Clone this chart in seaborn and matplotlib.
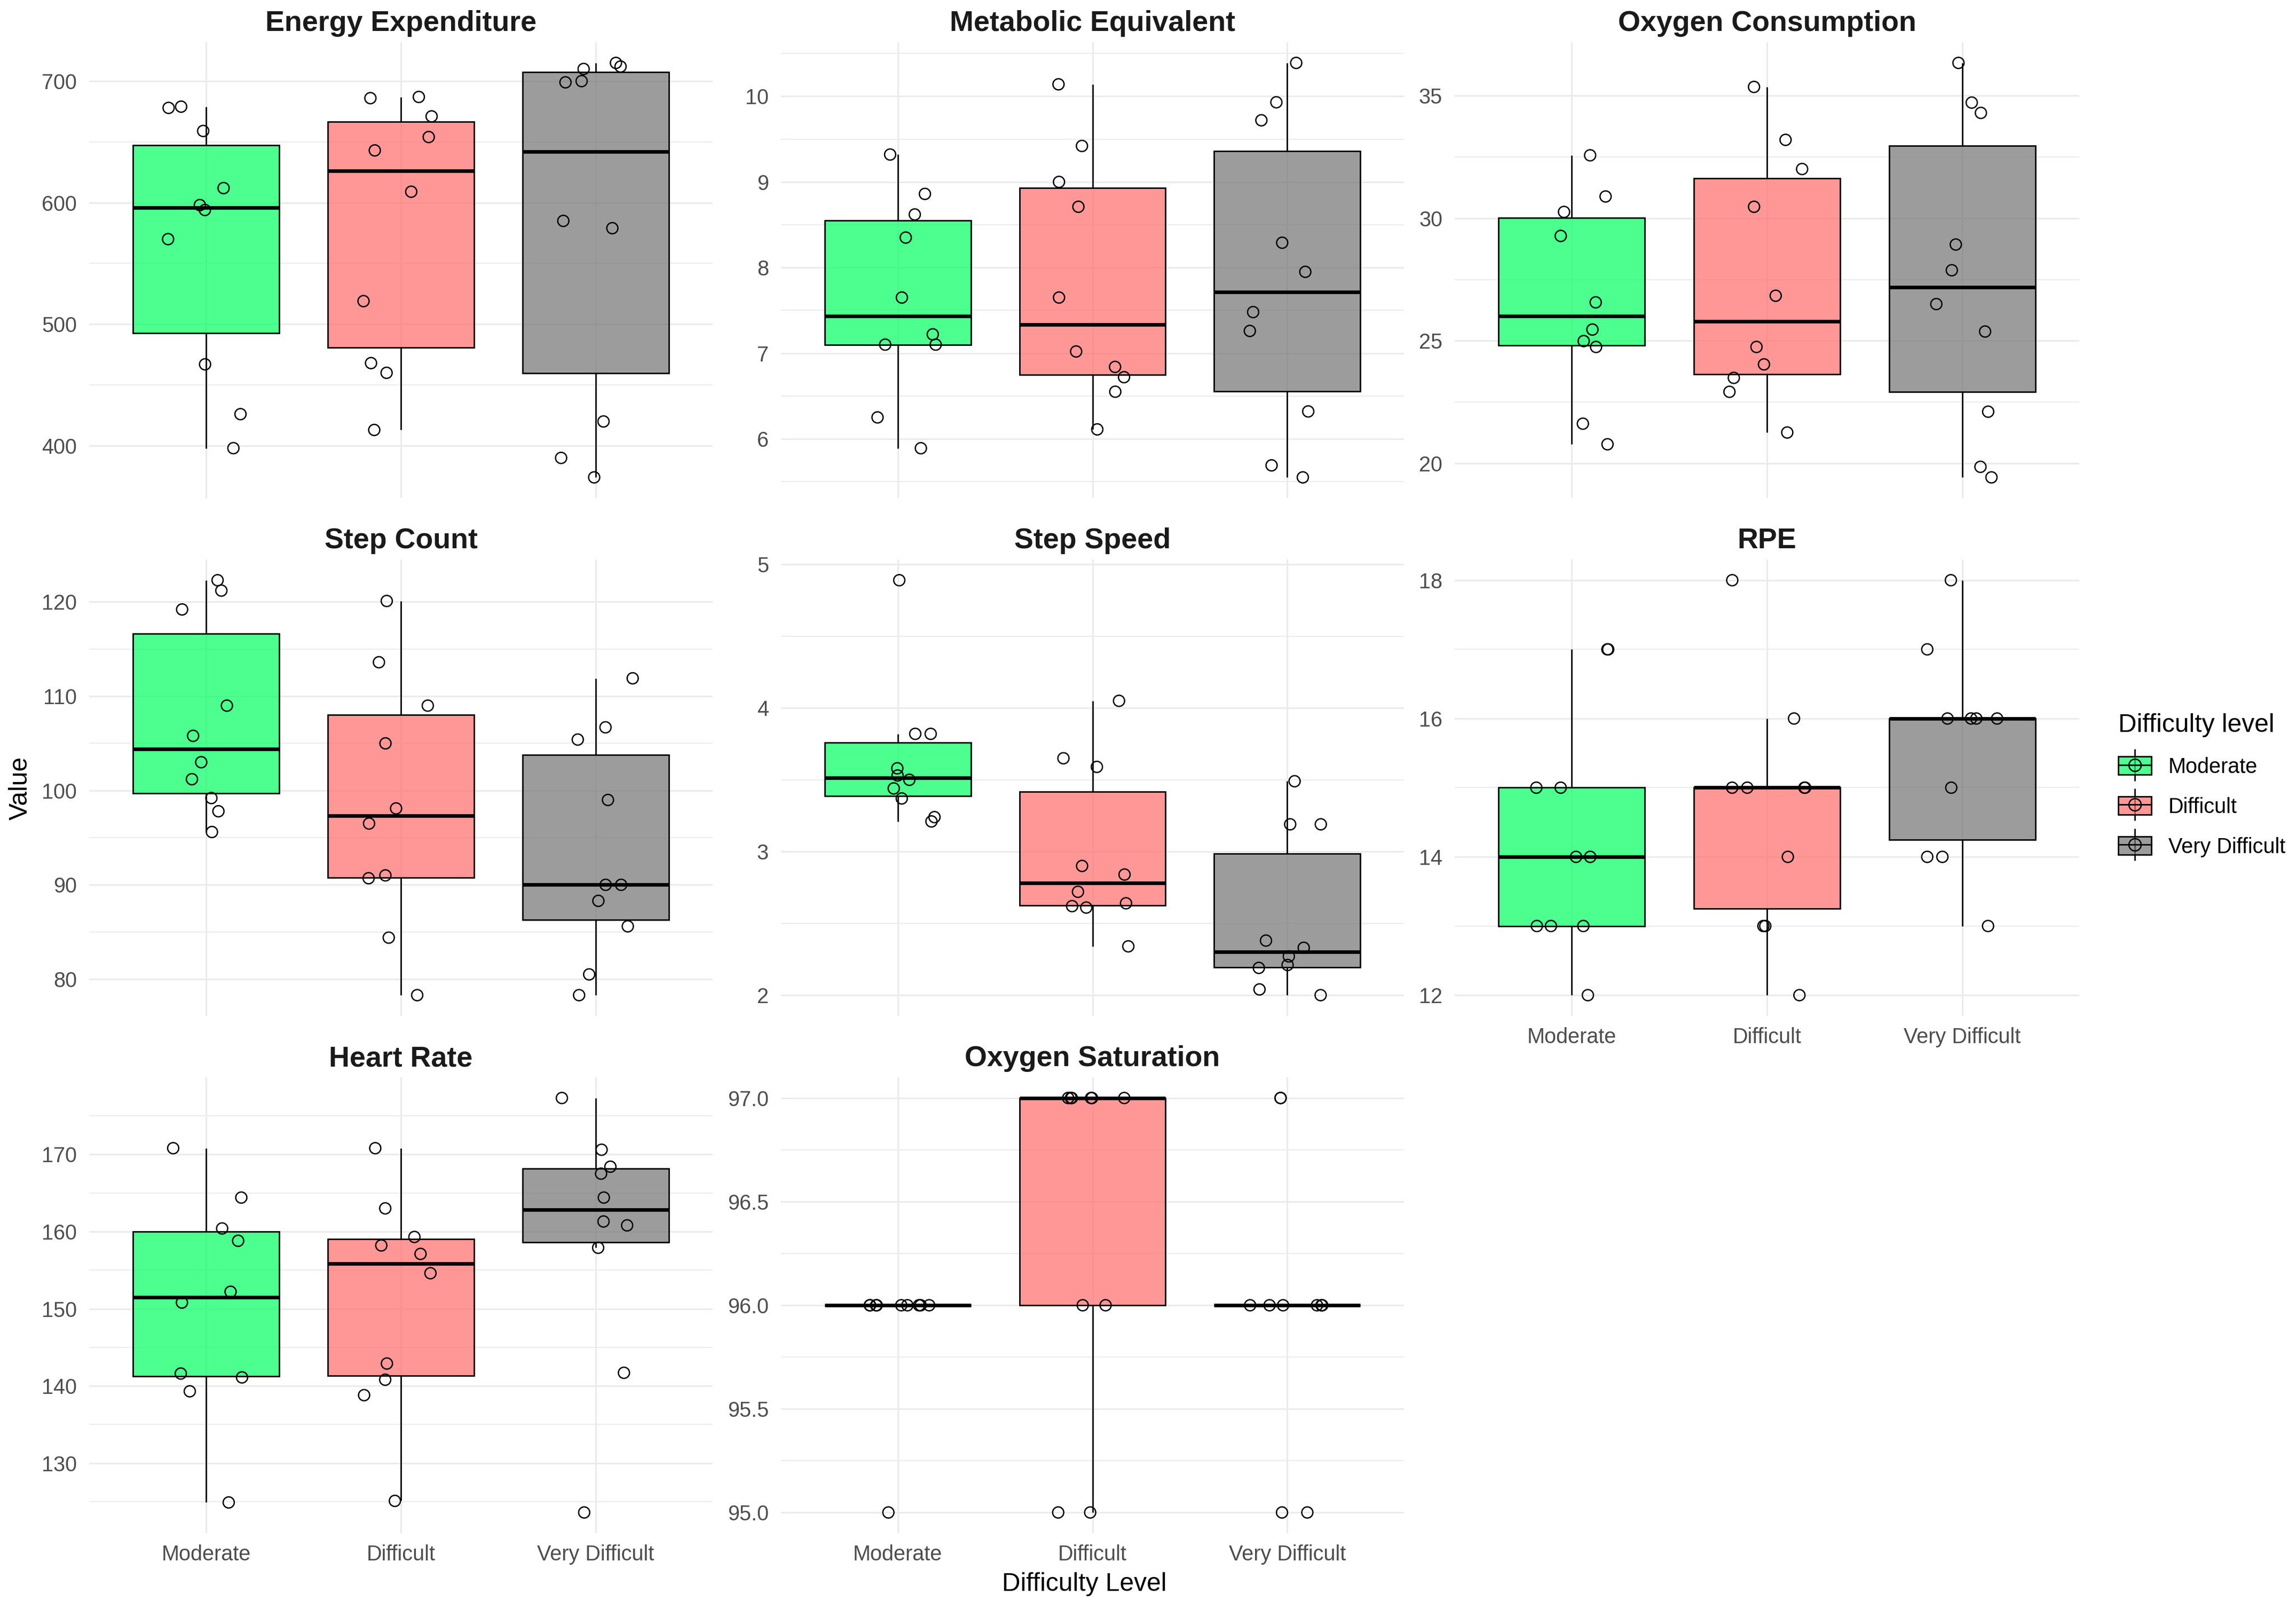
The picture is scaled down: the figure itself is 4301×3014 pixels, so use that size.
import numpy as np
import pandas as pd
import matplotlib
matplotlib.use('Agg')
import matplotlib.pyplot as plt
import seaborn as sns
from matplotlib.colors import to_rgba
from matplotlib.lines import Line2D
from matplotlib.patches import Patch
from matplotlib.ticker import MultipleLocator, FormatStrFormatter

levels = ['Moderate', 'Difficult', 'Very Difficult']
level_colors = ['#00FF5F', '#FF6B6B', '#737373']

# values, one list per difficulty level
energy = [[679, 678, 659, 612, 598, 594, 570, 467, 426, 398],
          [687, 686, 671, 654, 643, 609, 519, 468, 460, 413],
          [715, 712, 710, 700, 699, 585, 579, 420, 390, 374]]
metabolic = [[9.32, 8.86, 8.62, 8.35, 7.65, 7.22, 7.10, 7.10, 6.25, 5.89],
             [10.14, 9.42, 9.00, 8.71, 7.65, 7.02, 6.84, 6.72, 6.55, 6.11],
             [10.39, 9.93, 9.72, 8.29, 7.95, 7.48, 7.26, 6.32, 5.69, 5.55]]
oxygen_consumption = [[32.57, 30.89, 30.26, 29.28, 26.57, 25.46, 24.99, 24.75, 21.62, 20.78],
                      [35.36, 33.20, 32.01, 30.47, 26.84, 24.75, 24.04, 23.49, 22.92, 21.26],
                      [36.34, 34.72, 34.30, 28.93, 27.88, 26.50, 25.38, 22.11, 19.86, 19.43]]
step_count = [[122.3, 121.2, 119.2, 109.0, 105.8, 103.0, 101.2, 99.2, 97.8, 95.6],
              [120.1, 113.6, 109.0, 105.0, 98.1, 96.5, 91.0, 90.7, 84.4, 78.3],
              [111.9, 106.7, 105.4, 99.0, 90.0, 90.0, 88.3, 85.6, 80.5, 78.3]]
step_speed = [[4.89, 3.82, 3.82, 3.58, 3.53, 3.50, 3.44, 3.37, 3.24, 3.21],
              [4.05, 3.65, 3.59, 2.90, 2.84, 2.72, 2.64, 2.62, 2.61, 2.34],
              [3.49, 3.19, 3.19, 2.38, 2.33, 2.27, 2.21, 2.19, 2.04, 2.00]]
rpe = [[17, 17, 15, 15, 14, 14, 13, 13, 13, 12],
       [18, 16, 15, 15, 15, 15, 14, 13, 13, 12],
       [18, 17, 16, 16, 16, 16, 15, 14, 14, 13]]
heart_rate = [[170.8, 164.4, 160.4, 158.8, 152.2, 150.8, 141.6, 141.1, 139.3, 124.9],
              [170.8, 163.0, 159.3, 158.2, 157.1, 154.6, 142.9, 140.8, 138.8, 125.1],
              [177.3, 170.6, 168.4, 167.5, 164.4, 161.3, 160.8, 157.9, 141.7, 123.6]]
oxygen_saturation = [[96, 96, 96, 96, 96, 96, 96, 96, 96, 95],
                     [97, 97, 97, 97, 97, 97, 96, 96, 95, 95],
                     [97, 97, 96, 96, 96, 96, 96, 96, 95, 95]]

measures = ['Energy Expenditure', 'Metabolic Equivalent', 'Oxygen Consumption',
            'Step Count', 'Step Speed', 'RPE', 'Heart Rate', 'Oxygen Saturation']
measure_values = [energy, metabolic, oxygen_consumption, step_count,
                  step_speed, rpe, heart_rate, oxygen_saturation]
tick_steps = [100, 1, 5, 10, 1, 2, 10, 0.5]
bottom_panels = ['RPE', 'Heart Rate', 'Oxygen Saturation']

rows = []
for name, groups in zip(measures, measure_values):
    for level, vals in zip(levels, groups):
        for v in vals:
            rows.append({'Measure': name, 'Difficulty': level, 'Value': v})
df = pd.DataFrame(rows)

plt.rcParams['font.family'] = ['Liberation Sans', 'DejaVu Sans']

W, H = 4301, 3014
fig = plt.figure(figsize=(W / 300, H / 300), dpi=300)

col_x = [(167, 1335), (1463, 2630), (2725, 3895)]
row_y = [(79, 933), (1048, 1903), (2018, 2872)]

np.random.seed(11)
for i, (name, step) in enumerate(zip(measures, tick_steps)):
    r, c = divmod(i, 3)
    x0, x1 = col_x[c]
    y0, y1 = row_y[r]
    ax = fig.add_axes([x0 / W, 1 - y1 / H, (x1 - x0) / W, (y1 - y0) / H])
    sub = df[df['Measure'] == name]

    sns.boxplot(data=sub, x='Difficulty', y='Value', hue='Difficulty',
                order=levels, hue_order=levels, palette=level_colors,
                saturation=1, width=0.75, linecolor='black', linewidth=0.65,
                showfliers=False, showcaps=False,
                medianprops={'linewidth': 1.6}, legend=False, ax=ax)
    for p in ax.patches:
        p.set_facecolor(to_rgba(p.get_facecolor(), 0.7))

    sns.stripplot(data=sub, x='Difficulty', y='Value', order=levels,
                  jitter=0.2, size=5, color='black', ax=ax)
    for coll in ax.collections:
        coll.set_facecolor('none')
        coll.set_edgecolor('black')
        coll.set_linewidth(0.6)

    ax.set_xlim(-0.6, 2.6)
    ax.yaxis.set_major_locator(MultipleLocator(step))
    ax.yaxis.set_minor_locator(MultipleLocator(step / 2))
    if name == 'Oxygen Saturation':
        ax.yaxis.set_major_formatter(FormatStrFormatter('%.1f'))
    ax.grid(which='major', color='#EBEBEB', linewidth=0.7)
    ax.grid(which='minor', axis='y', color='#EBEBEB', linewidth=0.45)
    ax.set_axisbelow(True)
    for s in ax.spines.values():
        s.set_visible(False)
    ax.tick_params(which='both', length=0)
    ax.tick_params(axis='y', labelsize=9.5, labelcolor='#4D4D4D', pad=5.5)
    ax.tick_params(axis='x', labelsize=9.5, labelcolor='#4D4D4D', pad=5)
    if name not in bottom_panels:
        ax.tick_params(axis='x', labelbottom=False)
    ax.set_xlabel('')
    ax.set_ylabel('')
    ax.set_title(name, fontsize=12.9, fontweight='bold', color='#1A1A1A', pad=5)

handles = []
for col in level_colors:
    whisk = Line2D([], [], color='black', marker='|', linestyle='none',
                   markersize=14.4, markeredgewidth=0.65)
    box = Patch(facecolor=to_rgba(col, 0.7), edgecolor='black', linewidth=0.65)
    mid = Line2D([], [], color='black', linewidth=0.65, marker='o', markersize=5.5,
                 markerfacecolor='none', markeredgecolor='black', markeredgewidth=0.6)
    handles.append((whisk, box, mid))

fig.legend(handles, levels, loc='upper left', bbox_to_anchor=(3968 / W, 1 - 1336 / H),
           frameon=False, title='Difficulty level', title_fontsize=11.5, fontsize=9.5,
           handlelength=1.57, handleheight=0.93, handletextpad=0.8, labelspacing=0.92,
           borderaxespad=0, borderpad=0, alignment='left')

fig.text(38 / W, 1 - 1476 / H, 'Value', rotation=90, ha='center', va='center', fontsize=11.5)
fig.text(2031 / W, 1 - 2967 / H, 'Difficulty Level', ha='center', va='center', fontsize=11.5)

fig.savefig('out.png', dpi=300)
